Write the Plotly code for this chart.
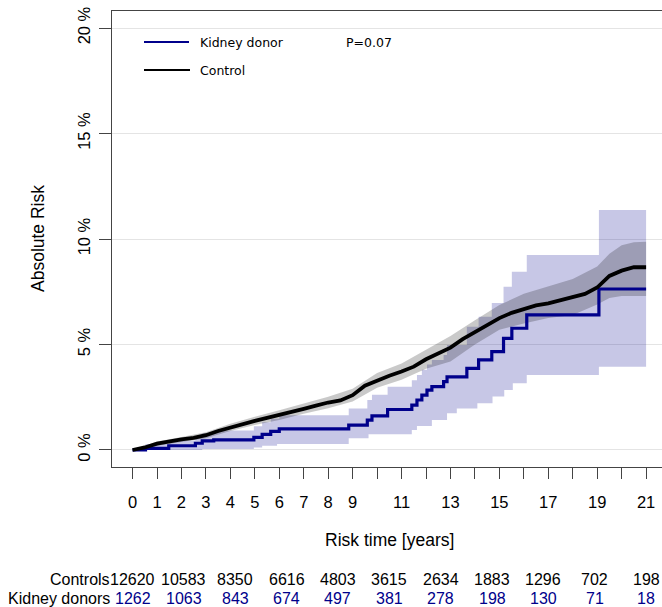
import plotly.graph_objects as go

# ---------------- data ----------------
# Control group cumulative absolute risk (%)
ctrl_t = [0, 0.5, 1.0, 1.5, 2.0, 2.5, 3.0, 3.5, 4.0, 4.5, 5.0, 5.5, 6.0, 6.5, 7.0, 7.5,
          8.0, 8.5, 9.0, 9.5, 10.0, 10.5, 11.0, 11.5, 12.0, 12.5, 13.0, 13.5, 14.0, 14.5,
          15.0, 15.5, 16.0, 16.5, 17.0, 17.5, 18.0, 18.5, 19.0, 19.5, 20.0, 20.5, 21.0]
ctrl_r = [0, 0.12, 0.3, 0.42, 0.5, 0.57, 0.7, 0.9, 1.07, 1.22, 1.38, 1.52, 1.65, 1.8, 1.95, 2.1,
          2.25, 2.35, 2.6, 3.05, 3.3, 3.52, 3.72, 3.95, 4.3, 4.6, 4.85, 5.25, 5.6, 5.9,
          6.25, 6.5, 6.68, 6.85, 6.95, 7.1, 7.25, 7.4, 7.7, 8.25, 8.5, 8.66, 8.66]
ctrl_ci_t = [0, 0.5, 1, 2, 3, 4, 5, 6, 7, 8, 9, 10, 11, 12, 13, 14, 15, 16, 17, 18, 19, 19.5, 20, 20.5, 21]
ctrl_lo = [0, 0.05, 0.2, 0.38, 0.56, 0.9, 1.18, 1.42, 1.72, 1.98, 2.3, 2.95, 3.33, 3.85, 4.2, 5.0,
           5.7, 6.0, 6.25, 6.4, 6.9, 7.2, 7.3, 7.3, 7.3]
ctrl_hi = [0, 0.2, 0.4, 0.62, 0.84, 1.24, 1.58, 1.88, 2.2, 2.52, 2.9, 3.65, 4.1, 4.75, 5.4, 6.15,
           6.87, 7.4, 7.75, 8.1, 8.7, 9.3, 9.7, 9.85, 9.87]

# Kidney donor cumulative absolute risk (%)
kd_t = [0, 0.53, 1.48, 2.57, 2.85, 3.32, 4.96, 5.3, 5.65, 6.0, 8.84, 9.6, 9.79, 10.43,
        11.42, 11.63, 11.83, 12.04, 12.24, 12.72, 12.86, 13.67, 14.15, 14.69, 15.17,
        15.51, 16.12, 19.07, 21.0]
kd_r = [0, 0.08, 0.2, 0.32, 0.43, 0.48, 0.6, 0.74, 0.88, 1.0, 1.18, 1.42, 1.62, 1.92,
        2.13, 2.37, 2.6, 2.84, 3.0, 3.24, 3.47, 3.87, 4.27, 4.66, 5.29,
        5.77, 6.4, 7.63, 7.63]
kd_lo_t = [0, 2.85, 4.96, 5.3, 5.91, 8.84, 9.65, 11.42, 11.63, 12.24, 12.86, 13.26, 14.1,
           14.72, 15.2, 15.55, 16.12, 19.07, 21.0]
kd_lo = [0, 0.05, 0.12, 0.2, 0.28, 0.56, 0.75, 0.95, 1.14, 1.42, 1.74, 1.97, 2.21,
         2.53, 2.84, 3.16, 3.55, 3.95, 3.95]
kd_hi_t = kd_t
kd_hi = [0, 0.28, 0.45, 0.6, 0.78, 0.92, 1.12, 1.32, 1.48, 1.65, 1.97, 2.37, 2.62, 3.0,
         3.3, 3.55, 3.8, 4.05, 4.27, 4.5, 4.98, 5.84, 6.32, 6.97, 7.74,
         8.45, 9.24, 11.37, 11.37]

# Numbers at risk
risk_times = [0, 2.1, 4.2, 6.3, 8.4, 10.5, 12.6, 14.7, 16.8, 18.9, 21]
controls_at_risk = [12620, 10583, 8350, 6616, 4803, 3615, 2634, 1883, 1296, 702, 198]
donors_at_risk = [1262, 1063, 843, 674, 497, 381, 278, 198, 130, 71, 18]

x_tickvals = list(range(0, 22))
x_ticktext = [str(v) if (v < 10 or v % 2 == 1) else "" for v in x_tickvals]
y_tickvals = [0, 5, 10, 15, 20]
y_ticktext = ["0 %", "5 %", "10 %", "15 %", "20 %"]

# ---------------- styles ----------------
BLUE = "#00008B"
ARIAL = "Liberation Sans"
LEG_FONT = "DejaVu Sans"

fig = go.Figure()

# Kidney donor CI band
fig.add_trace(go.Scatter(x=kd_lo_t, y=kd_lo, mode="lines", line=dict(width=0, shape="hv"),
                         hoverinfo="skip", showlegend=False))
fig.add_trace(go.Scatter(x=kd_hi_t, y=kd_hi, mode="lines", line=dict(width=0, shape="hv"),
                         fill="tonexty", fillcolor="rgba(0,0,139,0.22)",
                         hoverinfo="skip", showlegend=False))
# Control CI band
fig.add_trace(go.Scatter(x=ctrl_ci_t, y=ctrl_lo, mode="lines", line=dict(width=0, shape="linear"),
                         hoverinfo="skip", showlegend=False))
fig.add_trace(go.Scatter(x=ctrl_ci_t, y=ctrl_hi, mode="lines", line=dict(width=0, shape="linear"),
                         fill="tonexty", fillcolor="rgba(0,0,0,0.21)",
                         hoverinfo="skip", showlegend=False))
# Lines
fig.add_trace(go.Scatter(x=kd_t, y=kd_r, mode="lines", line=dict(color=BLUE, width=3.2, shape="hv"),
                         name="Kidney donor", showlegend=False))
fig.add_trace(go.Scatter(x=ctrl_t, y=ctrl_r, mode="lines", line=dict(color="black", width=3.8, shape="linear"),
                         name="Control", showlegend=False))

# plot area: x 112..662 px, y 11..467 px
W, H = 662, 607
L, R, T, B = 112, 0, 11, 140
pw, ph = W - L - R, H - T - B


def px(xp):
    return (xp - L) / pw


def py(yp):
    return (H - B - yp) / ph


annotations = []
# numbers at risk rows
annotations.append(dict(x=px(112), y=py(579), xref="paper", yref="paper", text="Controls",
                        showarrow=False, xanchor="right", yanchor="middle",
                        font=dict(family=ARIAL, size=16, color="black")))
annotations.append(dict(x=px(112), y=py(598), xref="paper", yref="paper", text="Kidney donors",
                        showarrow=False, xanchor="right", yanchor="middle",
                        font=dict(family=ARIAL, size=16, color="black")))
for t, c, d in zip(risk_times, controls_at_risk, donors_at_risk):
    annotations.append(dict(x=t, y=py(579), xref="x", yref="paper", text=str(c), showarrow=False,
                            xanchor="center", yanchor="middle",
                            font=dict(family=ARIAL, size=16, color="black")))
    annotations.append(dict(x=t, y=py(598), xref="x", yref="paper", text=str(d), showarrow=False,
                            xanchor="center", yanchor="middle",
                            font=dict(family=ARIAL, size=16, color=BLUE)))
# axis titles
annotations.append(dict(x=10.5, y=py(540), xref="x", yref="paper", text="Risk time [years]",
                        showarrow=False, xanchor="center", yanchor="middle",
                        font=dict(family=ARIAL, size=17.5, color="black")))
annotations.append(dict(x=px(38), y=10, xref="paper", yref="y", text="Absolute Risk",
                        showarrow=False, xanchor="center", yanchor="middle", textangle=-90,
                        font=dict(family=ARIAL, size=17.5, color="black")))
# legend texts
annotations.append(dict(x=px(198), y=py(42), xref="paper", yref="paper", text="Kidney donor",
                        showarrow=False, xanchor="left", yanchor="middle",
                        font=dict(family=LEG_FONT, size=12.5, color="black")))
annotations.append(dict(x=px(198), y=py(70), xref="paper", yref="paper", text="Control",
                        showarrow=False, xanchor="left", yanchor="middle",
                        font=dict(family=LEG_FONT, size=12.5, color="black")))
annotations.append(dict(x=px(344), y=py(42), xref="paper", yref="paper", text="P=0.07",
                        showarrow=False, xanchor="left", yanchor="middle",
                        font=dict(family=LEG_FONT, size=12.5, color="black")))

shapes = [
    dict(type="line", xref="paper", yref="paper", x0=px(144), x1=px(189), y0=py(42), y1=py(42),
         line=dict(color=BLUE, width=2.2)),
    dict(type="line", xref="paper", yref="paper", x0=px(144), x1=px(190), y0=py(70), y1=py(70),
         line=dict(color="black", width=2.2)),
]

fig.update_layout(
    width=W, height=H,
    margin=dict(l=L, r=R, t=T, b=B, pad=0),
    paper_bgcolor="white", plot_bgcolor="white",
    showlegend=False,
    annotations=annotations,
    shapes=shapes,
    xaxis=dict(range=[-0.84, 21.65], tickvals=x_tickvals, ticktext=x_ticktext,
               ticks="outside", ticklen=11, tickcolor="#444", tickwidth=1,
               showline=True, linecolor="#444", linewidth=1, mirror=True,
               showgrid=False, zeroline=False, ticklabelstandoff=9,
               tickfont=dict(family=ARIAL, size=16.5, color="black")),
    yaxis=dict(range=[-0.806, 20.806], tickvals=y_tickvals, ticktext=y_ticktext,
               tickangle=-90, ticks="outside", ticklen=12, tickcolor="#444", tickwidth=1,
               showline=True, linecolor="#444", linewidth=1, mirror=False,
               showgrid=True, gridcolor="#E4E4E4", gridwidth=1, zeroline=False,
               ticklabelstandoff=2,
               tickfont=dict(family=ARIAL, size=16.5, color="black")),
)

fig.write_html("out.html", config={"displayModeBar": False},
               post_script="document.body.style.margin='0';document.body.style.overflow='hidden';")
